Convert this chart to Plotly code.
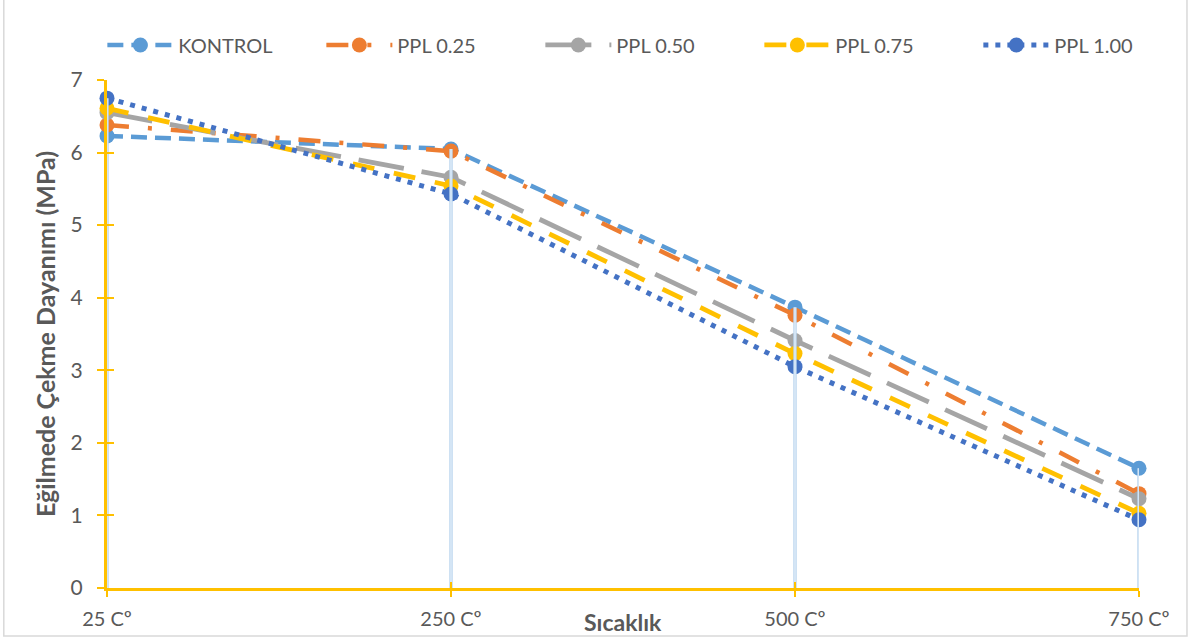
import plotly.graph_objects as go

categories = ["25 Cº", "250 Cº", "500 Cº", "750 Cº"]
kontrol = [6.23, 6.05, 3.87, 1.65]
ppl025 = [6.38, 6.02, 3.76, 1.30]
ppl050 = [6.55, 5.66, 3.41, 1.23]
ppl075 = [6.61, 5.54, 3.23, 1.03]
ppl100 = [6.75, 5.43, 3.05, 0.94]
series_names = ["KONTROL", "PPL 0.25", "PPL 0.50", "PPL 0.75", "PPL 1.00"]
y_ticks = [0, 1, 2, 3, 4, 5, 6, 7]

series = [kontrol, ppl025, ppl050, ppl075, ppl100]
colors = ["#5B9BD5", "#ED7D31", "#A5A5A5", "#FFC000", "#4472C4"]
dashes = ["16px,8px", "22px,19px,4px,19px", "46px,18px", "22px,20px", "5px,7px"]
widths = [4.5, 4.5, 4.8, 4.8, 5]

FONT = "Lato"
TXT = "#595959"
YEL = "#FFC000"

fig = go.Figure()
for name, vals, col, dsh, w in zip(series_names, series, colors, dashes, widths):
    fig.add_trace(go.Scatter(
        x=categories, y=vals, name=name, mode="lines+markers", cliponaxis=False,
        line=dict(color=col, width=w, dash=dsh),
        marker=dict(color=col, size=15, line=dict(width=0)),
    ))

# drop lines from the highest value at each category to the axis
maxes = [max(v) for v in zip(*series)]
xd, yd = [], []
for c, m in zip(categories, maxes):
    xd += [c, c, None]
    yd += [m, 0, None]
fig.add_trace(go.Scatter(x=xd, y=yd, mode="lines", xaxis="x2", yaxis="y2", cliponaxis=False,
                         line=dict(color="#B9D4EE", width=3.4), showlegend=False, hoverinfo="skip"))
fig.add_trace(go.Scatter(x=xd, y=yd, mode="lines", xaxis="x2", yaxis="y2", cliponaxis=False,
                         line=dict(color="#E6F0FA", width=1.2), showlegend=False, hoverinfo="skip"))

fig.update_layout(
    width=1197, height=641,
    margin=dict(l=107, r=58, t=80, b=53, autoexpand=False),
    paper_bgcolor="white", plot_bgcolor="white",
    font=dict(family=FONT, color=TXT, size=20),
    xaxis=dict(type="category", categoryorder="array", categoryarray=categories,
               range=[0, 3], showgrid=False, zeroline=False, automargin=False,
               showline=True, linecolor=YEL, linewidth=3,
               ticks="outside", tickcolor=YEL, ticklen=6, tickwidth=1.5,
               tickfont=dict(size=20, color=TXT), ticklabelstandoff=5),
    yaxis=dict(range=[0, 7], tickmode="array", tickvals=y_ticks, showgrid=False, zeroline=False,
               automargin=False, showline=True, linecolor=YEL, linewidth=3,
               ticks="outside", tickcolor=YEL, ticklen=7, tickwidth=1.5,
               tickfont=dict(size=21, color=TXT), ticklabelstandoff=10),
    xaxis2=dict(type="category", categoryorder="array", categoryarray=categories,
                overlaying="x", range=[0, 3], showgrid=False, zeroline=False, showline=False,
                automargin=False, ticks="inside", tickcolor=YEL, ticklen=6, tickwidth=1.5,
                showticklabels=False),
    yaxis2=dict(overlaying="y", range=[0, 7], tickmode="array", tickvals=y_ticks,
                showgrid=False, zeroline=False, showline=False, automargin=False,
                ticks="inside", tickcolor=YEL, ticklen=7, tickwidth=1.5, showticklabels=False),
    legend=dict(orientation="h", x=-0.0045, xanchor="left", y=1.069, yanchor="middle",
                font=dict(size=20, color=TXT), itemwidth=66,
                entrywidth=138, entrywidthmode="pixels", bgcolor="rgba(0,0,0,0)"),
    annotations=[
        dict(text="<b>Sıcaklık</b>", xref="paper", yref="paper", x=0.5, y=-0.066,
             xanchor="center", yanchor="middle", showarrow=False,
             font=dict(size=23, color=TXT, family=FONT)),
        dict(text="<b>Eğilmede Çekme Dayanımı (MPa)</b>", xref="paper", yref="paper",
             x=-0.06, y=0.5, xanchor="center", yanchor="middle", textangle=-90,
             showarrow=False, font=dict(size=25, color=TXT, family=FONT)),
    ],
    shapes=[dict(type="rect", xref="paper", yref="paper", x0=-0.1, x1=1.0465,
                 y0=-0.0945, y1=1.2, line=dict(color="#D9D9D9", width=1.5),
                 fillcolor="rgba(0,0,0,0)", layer="below")],
)

fig.write_html("out.html")
